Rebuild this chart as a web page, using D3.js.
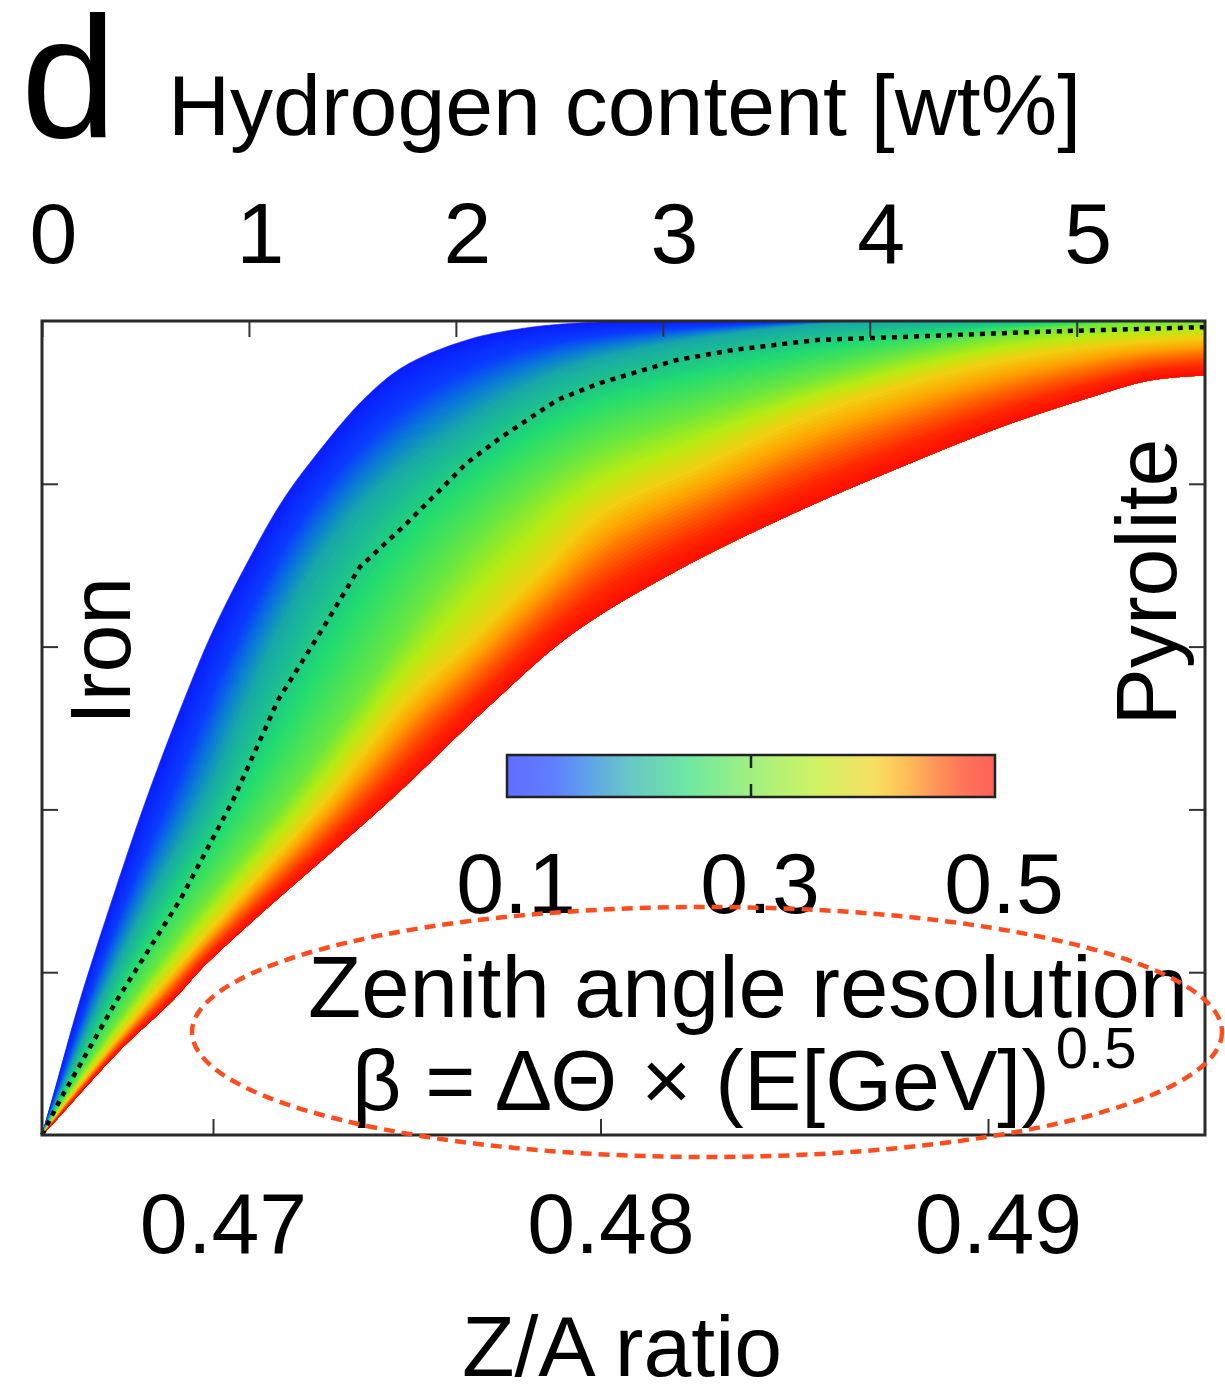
<!DOCTYPE html>
<html>
<head>
<meta charset="utf-8">
<script src="https://cdn.jsdelivr.net/npm/d3@7"></script>
<style>
body { margin: 0; background: #fff; }
text { font-family: "Liberation Sans", Arial, Helvetica, sans-serif; fill: #000; }
</style>
</head>
<body>
<script>
var width = 1225;
var height = 1387;

// beta levels of the drawn curves
var betaLevels = [0.1, 0.2, 0.3, 0.4, 0.5];

// each curve: Z/A ratio and (unlabelled) y value
var beta01ZA  = [0.465587, 0.465845, 0.466568, 0.467394, 0.468271, 0.469252, 0.469974, 0.470826, 0.471806, 0.472761, 0.473871, 0.474903, 0.476555, 0.478258, 0.479987, 0.481277, 0.4956];
var beta01Val = [0, 0.0430, 0.1658, 0.2887, 0.4115, 0.5344, 0.6167, 0.6978, 0.7801, 0.8415, 0.9029, 0.9435, 0.9767, 0.9926, 0.9988, 1, 1];

var beta02ZA  = [0.465587, 0.465974, 0.467084, 0.468323, 0.469742, 0.470852, 0.471652, 0.472581, 0.473794, 0.474903, 0.476116, 0.477406, 0.478697, 0.479987, 0.482568, 0.485148, 0.487213, 0.4956];
var beta02Val = [0, 0.0430, 0.1658, 0.2887, 0.4115, 0.5344, 0.6167, 0.6978, 0.7740, 0.8231, 0.8636, 0.9029, 0.9337, 0.9545, 0.9791, 0.9939, 1, 1];

var beta03ZA  = [0.465587, 0.466155, 0.46791, 0.469819, 0.471884, 0.473742, 0.476116, 0.477923, 0.479987, 0.482568, 0.485148, 0.487729, 0.49031, 0.49289, 0.494955, 0.4956];
var beta03Val = [0, 0.0430, 0.1658, 0.2887, 0.4115, 0.5344, 0.6941, 0.7801, 0.8440, 0.8882, 0.9251, 0.9582, 0.9828, 0.9963, 1, 1];

var beta04ZA  = [0.465587, 0.466258, 0.468348, 0.470594, 0.47289, 0.474955, 0.476632, 0.478439, 0.479987, 0.482568, 0.485148, 0.487729, 0.49031, 0.49289, 0.4956];
var beta04Val = [0, 0.0430, 0.1658, 0.2887, 0.4115, 0.5344, 0.6081, 0.6941, 0.7654, 0.8231, 0.8808, 0.9214, 0.9521, 0.9705, 0.9803];

var beta05ZA  = [0.465587, 0.465716, 0.4676, 0.468968, 0.469742, 0.471135, 0.474568, 0.477148, 0.47929, 0.482129, 0.485148, 0.487729, 0.49031, 0.492632, 0.49418, 0.4956];
var beta05Val = [0, 0.00614, 0.1044, 0.1658, 0.2064, 0.2678, 0.4115, 0.5283, 0.6167, 0.6978, 0.7678, 0.8206, 0.8698, 0.9066, 0.9275, 0.9337];

// black dotted curve
var dotZA  = [0.465587, 0.46605, 0.46752, 0.46915, 0.47052, 0.47168, 0.47276, 0.47379, 0.47490, 0.47568, 0.47655, 0.47741, 0.47888, 0.47999, 0.48197, 0.48342, 0.48559, 0.48773, 0.49116, 0.49573];
var dotVal = [0, 0.043, 0.1658, 0.2887, 0.4115, 0.5344, 0.6167, 0.6978, 0.7469, 0.7838, 0.8256, 0.8563, 0.9029, 0.9238, 0.9521, 0.9644, 0.9767, 0.9803, 0.9865, 0.9926];

// ticks
var zaTicks = [0.47, 0.48, 0.49];
var hydrogenTicks = [0, 1, 2, 3, 4, 5];
var yTicks = [0.2, 0.4, 0.6, 0.8];
var colorbarTicks = [0.1, 0.3, 0.5];

// colour map for beta
var colorBeta = [0.10, 0.14, 0.17, 0.20, 0.25, 0.30, 0.35, 0.40, 0.425, 0.45, 0.475, 0.50];
var colorHex  = ["#0a1eff", "#0a3cff", "#0a78d8", "#18a8a8", "#22dc70", "#6ee83c", "#b4ec14", "#f0d010", "#ffa000", "#ff6000", "#ff2800", "#ff0a00"];

var plotLeft = 42, plotRight = 1205, plotTop = 321, plotBottom = 1135;

var x = d3.scaleLinear().domain([0.465587, 0.4956]).range([plotLeft, plotRight]);
var y = d3.scaleLinear().domain([0, 1]).range([plotBottom, plotTop]);
var hx = d3.scaleLinear().domain([0, 5.62]).range([plotLeft, plotRight]);
var cbx = d3.scaleLinear().domain([0.1, 0.5]).range([507, 995]);
var color = d3.scaleLinear().domain(colorBeta).range(colorHex).interpolate(d3.interpolateRgb);

var svg = d3.select("body").append("svg")
  .attr("width", width)
  .attr("height", height);

svg.append("defs").append("clipPath").attr("id", "plotclip")
  .append("rect")
  .attr("x", plotLeft).attr("y", plotTop)
  .attr("width", plotRight - plotLeft).attr("height", plotBottom - plotTop);

var line = d3.line()
  .x(function(d){ return x(d[0]); })
  .y(function(d){ return y(d[1]); })
  .curve(d3.curveCatmullRom.alpha(0.5));

var curves = [
  [beta01ZA, beta01Val],
  [beta02ZA, beta02Val],
  [beta03ZA, beta03Val],
  [beta04ZA, beta04Val],
  [beta05ZA, beta05Val]
];

// sample every curve at equal fractions of its length so neighbours can be blended
var N = 400;
var sampled = curves.map(function(c){
  var pts = c[0].map(function(v, i){ return [v, c[1][i]]; });
  var p = svg.append("path").attr("d", line(pts)).attr("fill", "none");
  var node = p.node();
  var L = node.getTotalLength();
  var out = [];
  for (var i = 0; i <= N; i++) {
    var q = node.getPointAtLength(L * i / N);
    out.push([q.x, q.y]);
  }
  p.remove();
  return out;
});

var redBack = sampled[sampled.length - 1].slice().reverse();
var layers = [];
var sub = 24;
for (var k = 0; k < sampled.length - 1; k++) {
  for (var s = 0; s < sub; s++) {
    var t = s / sub;
    var a = sampled[k], b = sampled[k + 1];
    var pts = a.map(function(p, i){
      return [p[0] + (b[i][0] - p[0]) * t, p[1] + (b[i][1] - p[1]) * t];
    });
    layers.push({ beta: betaLevels[k] + t * (betaLevels[k + 1] - betaLevels[k]), pts: pts });
  }
}

var pix = d3.line();
svg.append("g")
  .attr("clip-path", "url(#plotclip)")
  .selectAll("path")
  .data(layers)
  .enter()
  .append("path")
  .attr("d", function(d){ return pix(d.pts.concat(redBack)) + "Z"; })
  .attr("fill", function(d){ return color(d.beta); })
  .attr("stroke", function(d){ return color(d.beta); })
  .attr("stroke-width", 0.6);

// dotted curve
var dotPts = dotZA.map(function(v, i){ return [v, dotVal[i]]; });
svg.append("path")
  .attr("d", d3.line().x(function(d){ return x(d[0]); }).y(function(d){ return y(d[1]); })(dotPts))
  .attr("fill", "none")
  .attr("stroke", "#000")
  .attr("stroke-width", 4.5)
  .attr("stroke-dasharray", "5,6");

// axes (ticks point inward)
function styleAxis(g) {
  g.select(".domain").remove();
  g.selectAll(".tick line").attr("stroke", "#333").attr("stroke-width", 2);
  g.attr("font-family", "Liberation Sans, Arial, sans-serif").attr("font-size", 86).attr("color", "#000");
}

svg.append("g")
  .attr("transform", "translate(0," + plotBottom + ")")
  .call(d3.axisBottom(x).tickValues(zaTicks).tickSize(-16).tickPadding(57).tickFormat(d3.format(".2f")))
  .call(styleAxis)
  .selectAll("text").attr("dx", 10);

svg.append("g")
  .attr("transform", "translate(0," + plotTop + ")")
  .call(d3.axisTop(hx).tickValues(hydrogenTicks).tickSize(-16).tickPadding(58).tickFormat(d3.format("d")))
  .call(styleAxis)
  .selectAll("text").attr("dx", 11);

svg.append("g")
  .attr("transform", "translate(" + plotLeft + ",0)")
  .call(d3.axisLeft(y).tickValues(yTicks).tickSize(-16).tickFormat(""))
  .call(styleAxis);

svg.append("g")
  .attr("transform", "translate(" + plotRight + ",0)")
  .call(d3.axisRight(y).tickValues(yTicks).tickSize(-16).tickFormat(""))
  .call(styleAxis);

// frame
svg.append("rect")
  .attr("x", plotLeft).attr("y", plotTop)
  .attr("width", plotRight - plotLeft).attr("height", plotBottom - plotTop)
  .attr("fill", "none")
  .attr("stroke", "#2a2a2a")
  .attr("stroke-width", 3);

// colour bar
var grad = svg.select("defs").append("linearGradient").attr("id", "cbgrad");
grad.selectAll("stop")
  .data(colorBeta)
  .enter()
  .append("stop")
  .attr("offset", function(d){ return ((d - 0.1) / 0.4 * 100) + "%"; })
  .attr("stop-color", function(d){ return color(d); });

svg.append("rect")
  .attr("x", cbx(0.1)).attr("y", 755)
  .attr("width", cbx(0.5) - cbx(0.1)).attr("height", 42)
  .attr("fill", "url(#cbgrad)")
  .attr("fill-opacity", 0.65)
  .attr("stroke", "#222")
  .attr("stroke-width", 2.5);

svg.append("line")
  .attr("x1", cbx(0.3)).attr("x2", cbx(0.3)).attr("y1", 755).attr("y2", 768)
  .attr("stroke", "#222").attr("stroke-width", 2.5);
svg.append("line")
  .attr("x1", cbx(0.3)).attr("x2", cbx(0.3)).attr("y1", 784).attr("y2", 797)
  .attr("stroke", "#222").attr("stroke-width", 2.5);

svg.selectAll(".cblabel")
  .data(colorbarTicks)
  .enter()
  .append("text")
  .attr("class", "cblabel")
  .attr("x", function(d){ return cbx(d) + 9; })
  .attr("y", 913)
  .attr("text-anchor", "middle")
  .attr("font-size", 86)
  .text(function(d){ return d3.format(".1f")(d); });

// titles and labels
svg.append("text").attr("x", 21).attr("y", 137).attr("font-size", 172).text("d");
svg.append("text").attr("x", 168).attr("y", 135).attr("font-size", 86).text("Hydrogen content [wt%]");
svg.append("text").attr("x", 622).attr("y", 1376).attr("text-anchor", "middle").attr("font-size", 86).text("Z/A ratio");

svg.append("text")
  .attr("transform", "translate(130,651) rotate(-90)")
  .attr("text-anchor", "middle").attr("font-size", 86)
  .text("Iron");
svg.append("text")
  .attr("transform", "translate(1176,582) rotate(-90)")
  .attr("text-anchor", "middle").attr("font-size", 86)
  .text("Pyrolite");

svg.append("text").attr("x", 308).attr("y", 1017).attr("font-size", 87).text("Zenith angle resolution");
var eq = svg.append("text").attr("x", 352).attr("y", 1110).attr("font-size", 86);
eq.append("tspan").text("\u03b2 = \u0394\u0398 \u00d7 (E[GeV])");
eq.append("tspan").attr("dx", 6).attr("dy", -42).attr("font-size", 58).text("0.5");

// dashed ellipse
svg.append("ellipse")
  .attr("cx", 707).attr("cy", 1032)
  .attr("rx", 515).attr("ry", 125)
  .attr("fill", "none")
  .attr("stroke", "#ff4d1f")
  .attr("stroke-width", 4.5)
  .attr("stroke-dasharray", "11,7");
</script>
</body>
</html>
